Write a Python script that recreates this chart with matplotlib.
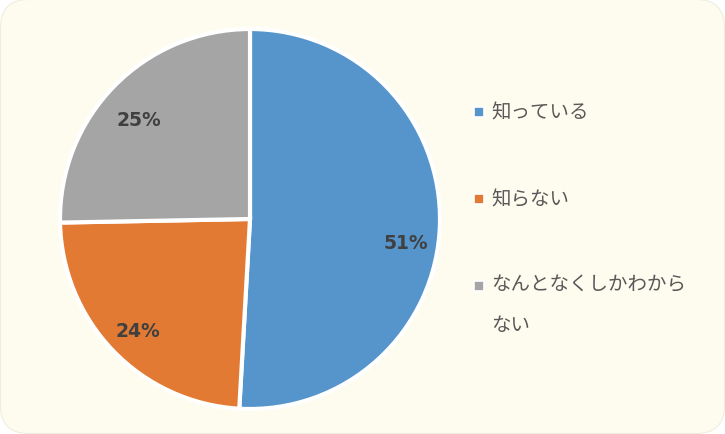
import matplotlib
matplotlib.use("Agg")
import matplotlib.pyplot as plt
from matplotlib.patches import FancyBboxPatch, Rectangle

plt.rcParams['font.family'] = ['Noto Sans CJK JP', 'DejaVu Sans']

# data (slices; labels show rounded percents)
labels = ['知っている', '知らない', 'なんとなくしかわから\nない']
values = [50.9, 23.8, 25.3]
colors = ['#5694CC', '#E37A33', '#A5A5A5']

W, H = 725, 435
fig = plt.figure(figsize=(W / 100, H / 100), dpi=100)
fig.patch.set_facecolor('white')

# rounded cream background
bg = FancyBboxPatch((0.5, 0.5), W - 1, H - 1, boxstyle="round,pad=0,rounding_size=28",
                    transform=None, facecolor='#FEFCEE', edgecolor='#EEEEE0', linewidth=0.8,
                    zorder=-5)
fig.patches.append(bg)

# pie axes
cx, cy, r = 250, 220, 190
ax = fig.add_axes([(cx - r) / W, (H - cy - r) / H, 2 * r / W, 2 * r / H])
ax.set_zorder(2)
ax.set_facecolor('none')
wedges, texts, autotexts = ax.pie(values, colors=colors, startangle=90, counterclock=False,
                                  autopct='%.0f%%', pctdistance=0.82,
                                  wedgeprops=dict(edgecolor='white', linewidth=3))
# excel drops the labels a little lower
nudge = [-0.1, -0.02, -0.05]
for t, dy in zip(autotexts, nudge):
    x, y = t.get_position()
    t.set_position((x, y + dy))
    t.set_color('#404040')
    t.set_fontsize(13.5)
    t.set_fontweight('bold')
    t.set_fontfamily(['DejaVu Sans'])
ax.set_xlim(-1, 1)
ax.set_ylim(-1, 1)
ax.set_aspect('auto')
ax.axis('off')

# legend
ys = [113, 200, 287]
for lab, col, y in zip(labels, colors, ys):
    fig.patches.append(Rectangle((474, H - y - 5), 10, 10, transform=None,
                                 facecolor=col, edgecolor='white', linewidth=1.2, zorder=3))
    if '\n' in lab:
        fig.text(491 / W, (H - y + 13) / H, lab, fontsize=14, color='#595959',
                 va='top', ha='left', linespacing=2.25, zorder=3)
    else:
        fig.text(491 / W, (H - y) / H, lab, fontsize=14, color='#595959',
                 va='center', ha='left', zorder=3)

fig.savefig('out.png', dpi=100, facecolor=fig.get_facecolor())
